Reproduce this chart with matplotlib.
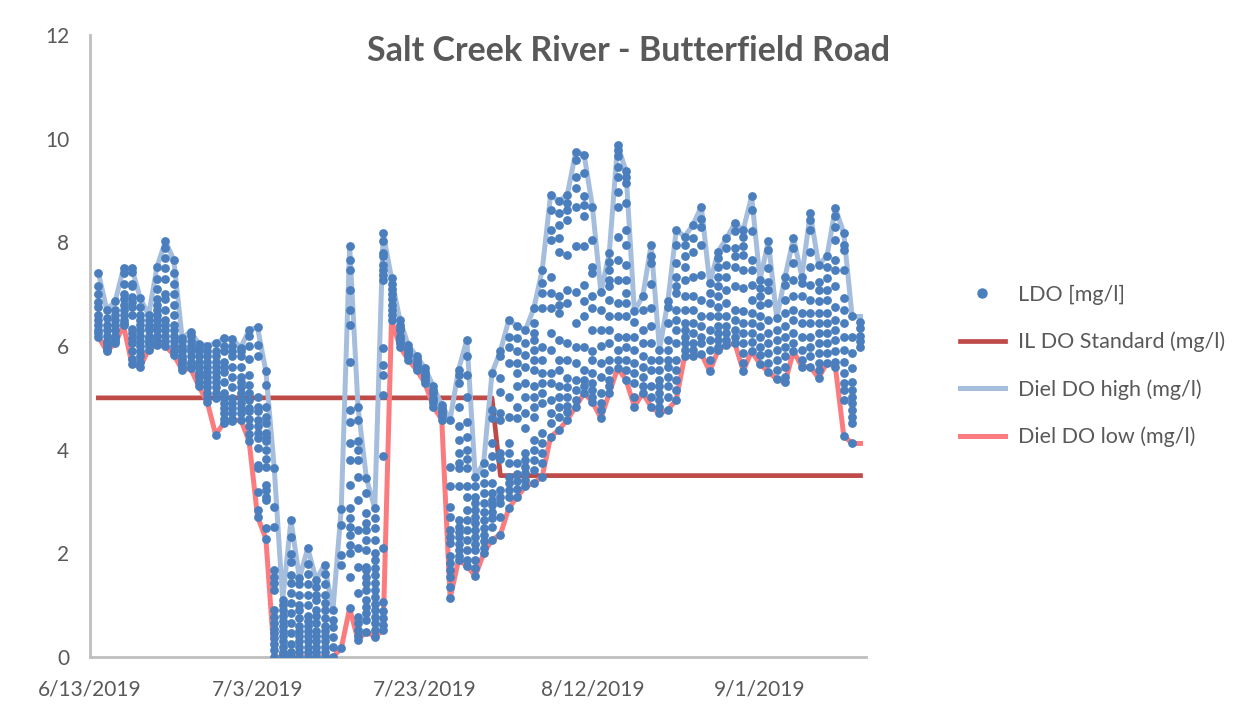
import pandas as pd
import matplotlib
matplotlib.use("Agg")
import matplotlib.pyplot as plt
import matplotlib.dates as mdates
from matplotlib.ticker import FuncFormatter, MultipleLocator
from matplotlib.lines import Line2D

# Daily series, one value per day from 6/14/2019 to 9/13/2019
start_day = "2019-06-14"

diel_high = [
    7.41, 6.70, 6.86, 7.50, 7.50, 6.92, 6.60, 7.53, 8.02, 7.66,
    6.15, 6.28, 6.04, 6.01, 6.05, 6.15, 6.13, 5.97, 6.31, 6.36,
    5.51, 3.64, 1.10, 2.64, 1.52, 2.10, 1.49, 1.78, 0.90, 2.86,
    7.93, 4.83, 3.45, 2.87, 8.18, 7.31, 6.50, 6.02, 5.80, 5.57,
    5.22, 4.86, 4.58, 5.54, 6.12, 3.48, 3.74, 5.48, 5.90, 6.50,
    6.38, 6.31, 6.73, 7.47, 8.92, 8.79, 8.92, 9.75, 9.69, 8.68,
    7.04, 7.79, 9.88, 9.37, 6.67, 6.96, 7.95, 5.93, 6.86, 8.24,
    8.11, 8.34, 8.69, 7.21, 7.82, 8.08, 8.37, 8.24, 8.89, 7.28,
    8.02, 6.54, 7.34, 8.08, 7.34, 8.56, 7.57, 7.73, 8.66, 8.18,
    6.57, 6.57,
]

diel_low = [
    6.18, 5.90, 6.05, 6.40, 5.65, 5.60, 5.93, 6.02, 6.00, 5.83,
    5.54, 5.57, 5.22, 4.92, 4.29, 4.52, 4.55, 4.58, 4.16, 2.71,
    2.28, 0.00, 0.00, 0.00, 0.00, 0.00, 0.00, 0.00, 0.00, 0.17,
    0.94, 0.33, 0.49, 0.39, 0.52, 6.50, 5.99, 5.73, 5.54, 5.28,
    4.83, 4.58, 1.13, 1.87, 1.76, 1.56, 2.00, 2.26, 2.36, 2.87,
    3.09, 3.29, 3.36, 3.48, 4.25, 4.38, 4.58, 4.83, 5.09, 4.92,
    4.61, 5.09, 5.57, 5.35, 4.83, 5.09, 4.83, 4.70, 4.77, 4.96,
    5.80, 5.80, 5.85, 5.51, 5.92, 6.02, 6.05, 5.52, 5.90, 5.65,
    5.50, 5.36, 5.30, 5.90, 5.60, 5.60, 5.38, 5.68, 5.60, 4.27,
    4.12, 4.12,
]

# IL standard steps down from 5 to 3.5 mg/l at the start of August
standard_dates = ["2019-06-14", "2019-07-31", "2019-08-01", "2019-09-13"]
standard_values = [5.0, 5.0, 3.5, 3.5]

# LDO sonde readings, grouped by day
ldo_readings = [
    [7.41, 7.15, 7.0, 6.85, 6.75, 6.6, 6.5, 6.4, 6.3, 6.25, 6.18],
    [6.7, 6.55, 6.4, 6.3, 6.2, 6.1, 6.05, 6.0, 5.95, 5.9],
    [6.86, 6.7, 6.6, 6.5, 6.4, 6.3, 6.2, 6.15, 6.1, 6.05],
    [7.5, 7.4, 7.2, 7.0, 6.9, 6.8, 6.7, 6.6, 6.5, 6.45, 6.4],
    [7.5, 7.42, 7.2, 7.15, 6.95, 6.85, 6.75, 6.6, 6.32, 6.25, 6.15, 6.06, 5.9, 5.75, 5.65],
    [6.92, 6.75, 6.6, 6.5, 6.4, 6.3, 6.2, 6.1, 6.0, 5.9, 5.8, 5.7, 5.6],
    [6.6, 6.5, 6.4, 6.35, 6.3, 6.2, 6.15, 6.1, 6.05, 6.0, 5.93],
    [7.53, 7.3, 7.1, 6.9, 6.8, 6.7, 6.6, 6.5, 6.4, 6.3, 6.2, 6.1, 6.02],
    [8.02, 7.9, 7.7, 7.5, 7.3, 7.0, 6.9, 6.7, 6.5, 6.4, 6.3, 6.2, 6.1, 6.0],
    [7.66, 7.4, 7.2, 7.0, 6.8, 6.6, 6.4, 6.3, 6.2, 6.1, 6.0, 5.9, 5.83],
    [6.15, 6.1, 6.0, 5.95, 5.9, 5.8, 5.75, 5.7, 5.65, 5.6, 5.54],
    [6.28, 6.2, 6.1, 6.0, 5.95, 5.9, 5.8, 5.7, 5.65, 5.6, 5.57],
    [6.04, 5.95, 5.9, 5.8, 5.7, 5.6, 5.5, 5.45, 5.4, 5.3, 5.22],
    [6.01, 5.9, 5.8, 5.7, 5.6, 5.5, 5.4, 5.3, 5.2, 5.1, 5.0, 4.92],
    [6.05, 5.9, 5.8, 5.7, 5.6, 5.5, 5.4, 5.3, 5.2, 5.1, 5.0, 4.29],
    [6.15, 6.0, 5.9, 5.7, 5.6, 5.5, 5.3, 5.1, 5.0, 4.9, 4.8, 4.7, 4.6, 4.52],
    [6.13, 6.0, 5.9, 5.8, 5.6, 5.4, 5.2, 5.0, 4.9, 4.8, 4.7, 4.6, 4.55],
    [5.97, 5.9, 5.8, 5.6, 5.4, 5.3, 5.2, 5.1, 5.0, 4.9, 4.8, 4.7, 4.58],
    [6.31, 6.2, 6.0, 5.75, 5.45, 5.25, 5.1, 4.95, 4.8, 4.75, 4.6, 4.45, 4.3, 4.16],
    [6.36, 6.02, 5.8, 5.02, 4.83, 4.74, 4.58, 4.45, 4.32, 4.22, 4.03, 3.71, 3.64, 3.19, 2.84, 2.71],
    [5.51, 5.25, 4.83, 4.64, 4.51, 4.32, 4.25, 4.16, 4.0, 3.83, 3.67, 3.32, 3.22, 3.09, 3.03, 2.49, 2.28],
    [3.64, 2.9, 2.51, 1.68, 1.55, 1.42, 1.29, 0.91, 0.78, 0.65, 0.55, 0.46, 0.36, 0.26, 0.13, 0.0],
    [1.1, 1.0, 0.9, 0.8, 0.7, 0.6, 0.5, 0.4, 0.3, 0.2, 0.1, 0.05, 0.0],
    [2.64, 2.31, 1.99, 1.83, 1.58, 1.42, 1.23, 1.04, 0.84, 0.65, 0.46, 0.26, 0.1, 0.0],
    [1.52, 1.4, 1.2, 1.0, 0.9, 0.75, 0.6, 0.5, 0.4, 0.3, 0.2, 0.1, 0.0],
    [2.1, 1.8, 1.6, 1.4, 1.2, 1.0, 0.8, 0.7, 0.6, 0.5, 0.4, 0.3, 0.2, 0.1, 0.0],
    [1.49, 1.35, 1.2, 1.1, 0.9, 0.8, 0.65, 0.5, 0.4, 0.3, 0.2, 0.1, 0.0],
    [1.78, 1.6, 1.4, 1.2, 1.05, 0.9, 0.75, 0.6, 0.5, 0.4, 0.3, 0.2, 0.1, 0.0],
    [0.9, 0.71, 0.58, 0.39, 0.19, 0.0],
    [2.86, 2.55, 1.97, 1.78, 0.17],
    [7.93, 7.66, 7.47, 7.08, 6.7, 6.41, 5.7, 4.77, 4.54, 4.12, 3.8, 3.32, 2.87, 2.68, 2.51, 2.36, 2.16, 2.0, 1.55, 0.94],
    [4.83, 4.58, 4.16, 4.0, 3.8, 3.48, 3.03, 2.45, 2.1, 1.74, 1.23, 0.78, 0.65, 0.52, 0.4, 0.33],
    [3.45, 3.16, 2.77, 2.58, 2.45, 2.26, 2.07, 1.74, 1.68, 1.55, 1.42, 1.29, 1.1, 0.97, 0.84, 0.71, 0.49],
    [2.87, 2.68, 2.49, 2.26, 2.0, 1.87, 1.71, 1.58, 1.42, 1.29, 1.16, 1.03, 0.9, 0.78, 0.65, 0.52, 0.39],
    [8.18, 8.02, 7.79, 7.73, 7.57, 7.47, 7.37, 7.28, 5.96, 5.64, 5.44, 5.06, 3.87, 2.1, 1.07, 0.88, 0.75, 0.62, 0.52],
    [7.31, 7.2, 7.1, 7.0, 6.9, 6.8, 6.7, 6.6, 6.5],
    [6.5, 6.4, 6.35, 6.3, 6.2, 6.15, 6.1, 6.05, 5.99],
    [6.02, 5.95, 5.9, 5.85, 5.8, 5.73],
    [5.8, 5.75, 5.7, 5.65, 5.6, 5.54],
    [5.57, 5.5, 5.45, 5.4, 5.35, 5.28],
    [5.22, 5.15, 5.1, 5.0, 4.95, 4.9, 4.83],
    [4.86, 4.8, 4.75, 4.7, 4.65, 4.58],
    [4.58, 3.67, 3.29, 2.9, 2.71, 2.45, 2.32, 2.2, 1.94, 1.81, 1.68, 1.55, 1.36, 1.13],
    [5.54, 5.44, 5.28, 4.83, 4.45, 4.19, 3.93, 3.74, 3.64, 3.29, 2.64, 2.51, 2.42, 2.32, 2.19, 2.07, 1.94, 1.87],
    [6.12, 5.8, 5.44, 5.02, 4.54, 4.25, 4.0, 3.83, 3.64, 3.29, 3.09, 2.84, 2.64, 2.45, 2.26, 2.07, 1.87, 1.76],
    [3.48, 3.29, 3.09, 2.97, 2.84, 2.71, 2.58, 2.45, 2.32, 2.19, 2.07, 1.87, 1.71, 1.56],
    [3.74, 3.55, 3.35, 3.16, 2.97, 2.8, 2.64, 2.48, 2.36, 2.23, 2.1, 2.0],
    [5.48, 4.77, 4.61, 4.12, 3.87, 3.67, 3.35, 3.16, 3.03, 2.93, 2.8, 2.68, 2.51, 2.26],
    [5.9, 5.8, 5.38, 5.12, 4.7, 4.58, 3.93, 3.83, 3.22, 3.09, 2.97, 2.71, 2.36],
    [6.5, 6.18, 5.99, 5.67, 5.02, 4.64, 4.12, 3.93, 3.74, 3.48, 3.35, 3.22, 3.09, 2.87],
    [6.38, 6.15, 5.9, 5.67, 5.48, 5.22, 4.83, 4.61, 3.74, 3.54, 3.4, 3.25, 3.09],
    [6.31, 6.05, 5.83, 5.6, 5.28, 5.02, 4.7, 4.41, 3.93, 3.8, 3.67, 3.55, 3.42, 3.29],
    [6.73, 6.44, 6.25, 6.12, 5.93, 5.73, 5.54, 5.22, 5.02, 4.83, 4.64, 4.19, 4.0, 3.8, 3.61, 3.36],
    [7.47, 7.21, 7.02, 6.73, 5.99, 5.73, 5.48, 5.28, 5.09, 4.9, 4.32, 4.12, 3.93, 3.74, 3.48],
    [8.92, 8.63, 8.24, 8.05, 7.34, 7.02, 6.73, 6.25, 5.93, 5.48, 5.28, 4.96, 4.7, 4.51, 4.25],
    [8.79, 8.56, 8.34, 8.08, 7.82, 6.96, 6.8, 6.63, 6.12, 5.73, 5.54, 5.22, 5.02, 4.83, 4.64, 4.38],
    [8.92, 8.76, 8.63, 8.44, 7.76, 7.08, 6.83, 6.05, 5.73, 5.38, 5.2, 5.02, 4.85, 4.72, 4.58],
    [9.75, 9.59, 9.27, 9.04, 8.69, 7.92, 7.05, 6.44, 5.99, 5.67, 5.35, 5.15, 4.96, 4.83],
    [9.69, 9.34, 8.89, 8.73, 8.5, 7.92, 7.18, 6.86, 6.57, 5.99, 5.54, 5.35, 5.22, 5.09],
    [8.68, 8.05, 7.53, 7.41, 6.96, 6.73, 6.31, 5.9, 5.73, 5.48, 5.28, 5.15, 5.02, 4.92],
    [7.04, 6.7, 6.31, 6.0, 5.67, 5.41, 5.09, 4.9, 4.77, 4.61],
    [7.79, 7.63, 7.47, 7.28, 7.15, 6.89, 6.57, 6.31, 6.05, 5.73, 5.54, 5.35, 5.22, 5.09],
    [9.88, 9.78, 9.66, 9.46, 9.27, 8.98, 8.69, 8.11, 7.66, 7.28, 6.83, 6.57, 6.18, 5.93, 5.73, 5.57],
    [9.37, 9.27, 9.14, 8.76, 8.24, 7.95, 7.57, 7.28, 7.02, 6.83, 6.57, 6.18, 5.99, 5.73, 5.54, 5.35],
    [6.67, 6.47, 6.18, 5.93, 5.67, 5.48, 5.28, 5.02, 4.83],
    [6.96, 6.7, 6.31, 6.05, 5.8, 5.6, 5.41, 5.22, 5.09],
    [7.95, 7.73, 7.6, 7.2, 6.73, 6.38, 6.05, 5.73, 5.54, 5.22, 5.02, 4.83],
    [5.93, 5.73, 5.54, 5.35, 5.22, 5.09, 4.96, 4.83, 4.7],
    [6.86, 6.76, 6.44, 6.12, 5.93, 5.73, 5.6, 5.41, 5.22, 5.02, 4.77],
    [8.24, 7.95, 7.6, 7.34, 7.15, 7.02, 6.7, 6.5, 6.31, 6.05, 5.73, 5.54, 5.35, 5.15, 4.96],
    [8.11, 7.95, 7.73, 7.53, 7.28, 6.96, 6.7, 6.44, 6.31, 6.18, 6.05, 5.93, 5.8],
    [8.34, 8.08, 7.82, 7.34, 6.96, 6.7, 6.44, 6.25, 6.05, 5.93, 5.8],
    [8.69, 8.46, 8.3, 7.95, 7.37, 6.89, 6.57, 6.38, 6.18, 6.05, 5.85],
    [7.21, 7.02, 6.83, 6.57, 6.31, 6.12, 5.93, 5.73, 5.51],
    [7.82, 7.69, 7.53, 7.34, 7.15, 6.96, 6.76, 6.57, 6.38, 6.25, 6.12, 5.99, 5.92],
    [8.08, 7.89, 7.57, 7.34, 7.08, 6.83, 6.57, 6.38, 6.25, 6.12, 6.02],
    [8.37, 8.21, 7.89, 7.73, 7.53, 7.15, 6.7, 6.5, 6.31, 6.18, 6.05],
    [8.24, 8.11, 7.92, 7.76, 7.47, 7.12, 6.67, 6.44, 6.25, 6.05, 5.86, 5.67, 5.52],
    [8.89, 8.63, 8.21, 7.66, 7.47, 7.18, 6.89, 6.63, 6.44, 6.25, 6.08, 5.9],
    [7.28, 7.12, 6.96, 6.8, 6.57, 6.38, 6.18, 5.99, 5.83, 5.65],
    [8.02, 7.86, 7.5, 7.24, 7.08, 6.83, 6.5, 6.25, 6.05, 5.86, 5.67, 5.5],
    [6.54, 6.31, 6.12, 5.93, 5.73, 5.54, 5.36],
    [7.34, 7.18, 6.89, 6.63, 6.38, 6.18, 5.99, 5.8, 5.6, 5.41, 5.3],
    [8.08, 7.89, 7.6, 7.28, 6.96, 6.7, 6.5, 6.25, 6.05, 5.9],
    [7.34, 7.21, 6.96, 6.63, 6.44, 6.18, 5.93, 5.73, 5.6],
    [8.56, 8.43, 8.24, 7.82, 7.53, 7.18, 6.89, 6.63, 6.44, 6.18, 5.99, 5.8, 5.6],
    [7.57, 7.24, 7.08, 6.86, 6.63, 6.44, 6.25, 6.05, 5.86, 5.67, 5.54, 5.38],
    [7.73, 7.53, 7.31, 7.08, 6.89, 6.63, 6.44, 6.25, 6.05, 5.86, 5.68],
    [8.66, 8.5, 8.3, 8.05, 7.66, 7.47, 7.15, 6.76, 6.5, 6.31, 6.12, 5.9, 5.7, 5.6],
    [8.18, 7.95, 7.86, 7.47, 6.92, 6.7, 6.44, 6.18, 5.93, 5.7, 5.48, 5.28, 5.15, 4.96, 4.27],
    [6.57, 6.18, 5.86, 5.57, 5.31, 5.15, 5.02, 4.9, 4.77, 4.64, 4.51, 4.12],
    [6.47, 6.35, 6.2, 6.1, 5.98],
]

days = pd.date_range(start_day, periods=len(diel_high), freq="D")
dot_x = [d for d, vals in zip(days, ldo_readings) for _ in vals]
dot_y = [v for vals in ldo_readings for v in vals]

text_color = "#595959"
plt.rcParams["font.family"] = ["Lato", "DejaVu Sans"]

fig = plt.figure(figsize=(12.52, 7.13), dpi=100)
ax = fig.add_axes([0.0719, 0.0785, 0.6198, 0.8724])

ax.plot(pd.to_datetime(standard_dates), standard_values, color="#bf4b48",
        lw=3.4, zorder=2)
ax.plot(days, diel_high, color="#a6bedd", lw=3.6, zorder=2)
ax.plot(days, diel_low, color="#fb7c7f", lw=3.6, zorder=2)
ax.scatter(dot_x, dot_y, s=40, color="#4a7ebd", linewidths=0, zorder=3)

ax.set_ylim(0, 12)
ax.yaxis.set_major_locator(MultipleLocator(2))
x0 = pd.Timestamp("2019-06-13")
ax.set_xlim(x0, x0 + pd.Timedelta(days=92.66))
ax.set_xticks([x0 + pd.Timedelta(days=20 * i) for i in range(5)])
ax.xaxis.set_major_formatter(FuncFormatter(
    lambda v, pos: (lambda d: f"{d.month}/{d.day}/{d.year}")(mdates.num2date(v))))

for side in ["top", "right"]:
    ax.spines[side].set_visible(False)
for side in ["left", "bottom"]:
    ax.spines[side].set_color("#bfbfbf")
    ax.spines[side].set_linewidth(2)
ax.tick_params(length=0, labelsize=15, colors=text_color)
ax.tick_params(axis="y", pad=15)
ax.tick_params(axis="x", pad=16)

fig.text(0.502, 0.929, "Salt Creek River - Butterfield Road", ha="center",
         va="center", fontsize=24.5, fontweight="bold", color=text_color)

handles = [
    Line2D([], [], ls="none", marker="o", ms=6.5, color="#4a7ebd"),
    Line2D([], [], color="#bf4b48", lw=3.4),
    Line2D([], [], color="#a6bedd", lw=3.6),
    Line2D([], [], color="#fb7c7f", lw=3.6),
]
labels = ["LDO [mg/l]", "IL DO Standard (mg/l)", "Diel DO high (mg/l)", "Diel DO low (mg/l)"]
fig.legend(handles, labels, loc="center left", bbox_to_anchor=(0.751, 0.487),
           frameon=False, fontsize=15.5, labelcolor=text_color,
           handlelength=2.1, handletextpad=0.6, labelspacing=1.25)

fig.savefig("out.png", dpi=100)
